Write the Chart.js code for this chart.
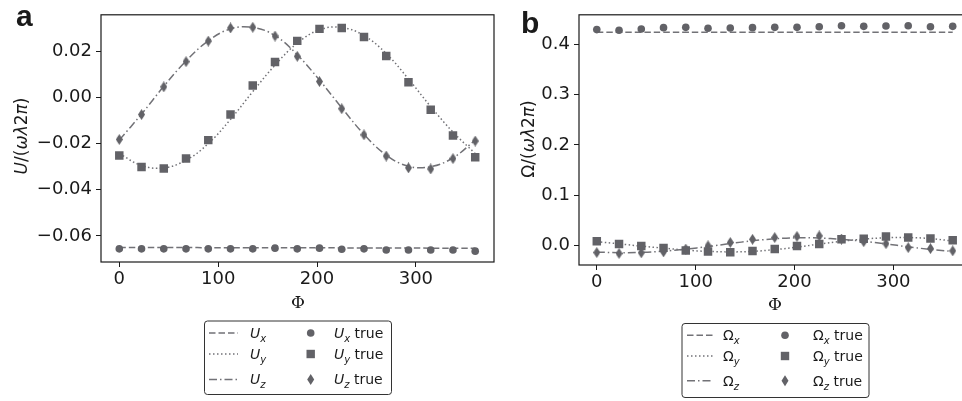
<!DOCTYPE html>
<html>
<head>
<meta charset="utf-8">
<script src="https://cdn.jsdelivr.net/npm/chart.js@4.4.0/dist/chart.umd.min.js"></script>
<style>
  body { margin: 0; background: #fff; width: 962px; height: 401px; overflow: hidden; position: relative;
         font-family: "DejaVu Sans", sans-serif; color: #1a1a1a; }
  canvas { position: absolute; top: 0; }
  .t { position: absolute; white-space: nowrap; }
  .letter { font: bold 30px "Liberation Sans", Arial, sans-serif; line-height: 30px; color: #1a1a1a; }
  .ytitle { font-size: 17px; transform: translate(-50%, -50%) rotate(-90deg); line-height: 20px; }
  .xtitle { font: 17px "DejaVu Serif", serif; transform: translate(-50%, -50%); line-height: 20px; }
  .lg { font-size: 14px; line-height: 18px; }
  .lg sub { font-size: 10px; vertical-align: -4px; line-height: 0; font-style: italic; }
  svg { position: absolute; left: 0; top: 0; }
</style>
</head>
<body>
<canvas id="chartA" width="500" height="300" style="left:0"></canvas>
<canvas id="chartB" width="500" height="300" style="left:480px"></canvas>

<div class="t letter" style="left:16px;top:1px">a</div>
<div class="t letter" style="left:521px;top:8px">b</div>
<div class="t ytitle" style="left:21px;top:136px"><i>U</i>/(<i>ω</i><i>λ</i>2<i>π</i>)</div>
<div class="t ytitle" style="left:528px;top:139px">Ω/(<i>ω</i><i>λ</i>2<i>π</i>)</div>
<div class="t xtitle" style="left:298px;top:302px">Φ</div>
<div class="t xtitle" style="left:775px;top:304px">Φ</div>

<svg width="962" height="401" id="legendSvg"></svg>

<div class="t lg" style="left:250px;top:324px"><i>U</i><sub>x</sub></div>
<div class="t lg" style="left:250px;top:345px"><i>U</i><sub>y</sub></div>
<div class="t lg" style="left:250px;top:370px"><i>U</i><sub>z</sub></div>
<div class="t lg" style="left:334px;top:324px"><i>U</i><sub>x</sub> true</div>
<div class="t lg" style="left:334px;top:345px"><i>U</i><sub>y</sub> true</div>
<div class="t lg" style="left:334px;top:370px"><i>U</i><sub>z</sub> true</div>

<div class="t lg" style="left:723px;top:326px">Ω<sub>x</sub></div>
<div class="t lg" style="left:723px;top:347px">Ω<sub>y</sub></div>
<div class="t lg" style="left:723px;top:372px">Ω<sub>z</sub></div>
<div class="t lg" style="left:813px;top:326px">Ω<sub>x</sub> true</div>
<div class="t lg" style="left:813px;top:347px">Ω<sub>y</sub> true</div>
<div class="t lg" style="left:813px;top:372px">Ω<sub>z</sub> true</div>

<script>
// angle samples (degrees)
const phi = [0, 22.5, 45, 67.5, 90, 112.5, 135, 157.5, 180, 202.5, 225, 247.5, 270, 292.5, 315, 337.5, 360];

// panel a: translational velocity
const uxTrue  = [-0.0656, -0.0656, -0.0656, -0.0656, -0.0656, -0.0656, -0.0656, -0.0653, -0.0656, -0.0653, -0.0658, -0.0656, -0.0661, -0.0661, -0.0661, -0.0661, -0.0666];
const uxModel = [-0.0650, -0.0650, -0.0650, -0.0650, -0.0651, -0.0651, -0.0651, -0.0651, -0.0651, -0.0651, -0.0652, -0.0652, -0.0652, -0.0652, -0.0653, -0.0653, -0.0653];
const uyTrue  = [-0.0252, -0.0301, -0.0308, -0.0265, -0.0185, -0.0074, 0.0052, 0.0153, 0.0245, 0.0297, 0.0301, 0.0262, 0.0179, 0.0066, -0.0053, -0.0165, -0.0259];
const uyModel = [-0.0243, -0.0295, -0.0305, -0.0272, -0.0200, -0.0095, 0.0025, 0.0140, 0.0235, 0.0293, 0.0303, 0.0268, 0.0190, 0.0080, -0.0040, -0.0150, -0.0243];
const uzTrue  = [-0.0182, -0.0074, 0.0046, 0.0155, 0.0244, 0.0301, 0.0304, 0.0266, 0.0178, 0.0069, -0.0049, -0.0162, -0.0254, -0.0305, -0.0310, -0.0265, -0.0189];
const uzModel = [-0.0185, -0.0072, 0.0048, 0.0158, 0.0245, 0.0297, 0.0303, 0.0268, 0.0185, 0.0075, -0.0045, -0.0160, -0.0250, -0.0298, -0.0300, -0.0262, -0.0185];

// panel b: rotational velocity
const oxTrue  = [0.4287, 0.4274, 0.4300, 0.4326, 0.4332, 0.4313, 0.4319, 0.4326, 0.4332, 0.4332, 0.4345, 0.4365, 0.4352, 0.4358, 0.4365, 0.4345, 0.4352];
const oxModel = [0.4235, 0.4235, 0.4235, 0.4235, 0.4235, 0.4235, 0.4235, 0.4235, 0.4235, 0.4235, 0.4235, 0.4235, 0.4235, 0.4235, 0.4235, 0.4235, 0.4235];
const oyTrue  = [0.0088, 0.0033, -0.0007, -0.0045, -0.0097, -0.0117, -0.0134, -0.0105, -0.0066, -0.0007, 0.0033, 0.0124, 0.0137, 0.0182, 0.0163, 0.0143, 0.0104];
const oyModel = [0.0080, 0.0035, -0.0010, -0.0050, -0.0090, -0.0115, -0.0125, -0.0115, -0.0080, -0.0030, 0.0030, 0.0085, 0.0130, 0.0155, 0.0160, 0.0140, 0.0090];
const ozTrue  = [-0.0137, -0.0156, -0.0143, -0.0124, -0.0068, -0.0003, 0.0062, 0.0124, 0.0160, 0.0183, 0.0192, 0.0130, 0.0078, 0.0039, -0.0039, -0.0059, -0.0104];
const ozModel = [-0.0130, -0.0140, -0.0135, -0.0110, -0.0070, -0.0020, 0.0040, 0.0095, 0.0135, 0.0155, 0.0150, 0.0125, 0.0085, 0.0035, -0.0025, -0.0075, -0.0115];

// tick labels
const xTicks = [0, 100, 200, 300];
const yTicksA = [-0.06, -0.04, -0.02, 0, 0.02];
const yTicksB = [0, 0.1, 0.2, 0.3, 0.4];

const MARK = '#626267';
const LINE = '#727277';
const DASH = [6.5, 3];
const DOT = [1.5, 2.5];
const DASHDOT = [8, 3, 1.5, 3];

function thinDiamond(w, h, color) {
  const c = document.createElement('canvas');
  c.width = w; c.height = h;
  const g = c.getContext('2d');
  g.fillStyle = color;
  g.beginPath();
  g.moveTo(w / 2, 0); g.lineTo(w, h / 2); g.lineTo(w / 2, h); g.lineTo(0, h / 2);
  g.closePath();
  g.fill();
  return c;
}
const diamond = thinDiamond(7, 11, MARK);

const pts = ys => phi.map((x, i) => ({ x, y: ys[i] }));

function modelLine(ys, dash) {
  return { data: pts(ys), showLine: true, pointRadius: 0, borderColor: LINE, borderWidth: 1.5,
           borderDash: dash, tension: 0.4, order: 2 };
}
function markers(ys, style, radius) {
  return { data: pts(ys), showLine: false, pointStyle: style, pointRadius: radius,
           pointBackgroundColor: MARK, pointBorderColor: MARK, pointBorderWidth: 0, order: 1 };
}

const frame = {
  id: 'frame',
  afterDatasetsDraw(chart) {
    const a = chart.chartArea, ctx = chart.ctx;
    ctx.save();
    ctx.strokeStyle = '#1a1a1a';
    ctx.lineWidth = 1.2;
    ctx.strokeRect(a.left, a.top, a.right - a.left, a.bottom - a.top);
    ctx.restore();
  }
};

function makeChart(id, datasets, o) {
  const tickFont = { family: 'DejaVu Sans', size: 18 };
  new Chart(document.getElementById(id), {
    type: 'scatter',
    data: { datasets },
    options: {
      responsive: false, animation: false, devicePixelRatio: 1,
      layout: { padding: { left: 0, top: o.top, right: o.right, bottom: 0 } },
      plugins: { legend: { display: false }, tooltip: { enabled: false } },
      scales: {
        x: {
          type: 'linear', min: o.xmin, max: o.xmax,
          border: { display: false },
          grid: { drawOnChartArea: false, drawTicks: true, tickLength: 5, color: '#1a1a1a' },
          ticks: { font: tickFont, color: '#1a1a1a', padding: 2, maxRotation: 0, autoSkip: false,
                   callback: v => String(v) },
          afterBuildTicks: s => { s.ticks = xTicks.map(v => ({ value: v })); },
          afterFit: s => { s.height = o.xh; }
        },
        y: {
          type: 'linear', min: o.ymin, max: o.ymax,
          border: { display: false },
          grid: { drawOnChartArea: false, drawTicks: true, tickLength: 5, color: '#1a1a1a' },
          ticks: { font: tickFont, color: '#1a1a1a', padding: 4, autoSkip: false,
                   callback: v => v.toFixed(o.dec).replace('-', '\u2212') },
          afterBuildTicks: s => { s.ticks = o.yTicks.map(v => ({ value: v })); },
          afterFit: s => { s.width = o.yw; }
        }
      }
    },
    plugins: [frame]
  });
}

makeChart('chartA', [
  modelLine(uxModel, DASH), modelLine(uyModel, DOT), modelLine(uzModel, DASHDOT),
  markers(uxTrue, 'circle', 3.8), markers(uyTrue, 'rect', 6), markers(uzTrue, diamond, 5)
], { top: 7, right: 5, xh: 38, yw: 101, xmin: -18.5, xmax: 379, ymin: -0.0713, ymax: 0.0358, yTicks: yTicksA, dec: 2 });

makeChart('chartB', [
  modelLine(oxModel, DASH), modelLine(oyModel, DOT), modelLine(ozModel, DASHDOT),
  markers(oxTrue, 'circle', 3.8), markers(oyTrue, 'rect', 6), markers(ozTrue, diamond, 5)
], { top: 11, right: 9.5, xh: 35, yw: 99, xmin: -18, xmax: 378, ymin: -0.0385, ymax: 0.4581, yTicks: yTicksB, dec: 1 });

// legend frames, line samples and marker glyphs
const NS = 'http://www.w3.org/2000/svg';
const svg = document.getElementById('legendSvg');
function el(tag, attrs) {
  const e = document.createElementNS(NS, tag);
  for (const k in attrs) e.setAttribute(k, attrs[k]);
  svg.appendChild(e);
}
function legend(box, x1, x2, mx, rows) {
  el('rect', { x: box[0] + 0.5, y: box[1] + 0.5, width: box[2], height: box[3], rx: 3, fill: '#fff', stroke: '#333', 'stroke-width': 1 });
  const dashes = [DASH, DOT, DASHDOT];
  rows.forEach((y, i) => {
    el('line', { x1, y1: y, x2, y2: y, stroke: LINE, 'stroke-width': 1.5, 'stroke-dasharray': dashes[i].join(' ') });
  });
  el('circle', { cx: mx, cy: rows[0], r: 3.8, fill: MARK });
  el('rect', { x: mx - 4.2, y: rows[1] - 4.2, width: 8.4, height: 8.4, fill: MARK });
  el('polygon', { points: `${mx},${rows[2] - 5.5} ${mx + 3.5},${rows[2]} ${mx},${rows[2] + 5.5} ${mx - 3.5},${rows[2]}`, fill: MARK });
}
legend([204, 320.5, 187, 73.5], 209, 238, 310.7, [333, 354, 379.5]);
legend([681.5, 323, 187, 74], 687, 713, 785, [335.3, 356, 380.7]);
</script>
</body>
</html>
